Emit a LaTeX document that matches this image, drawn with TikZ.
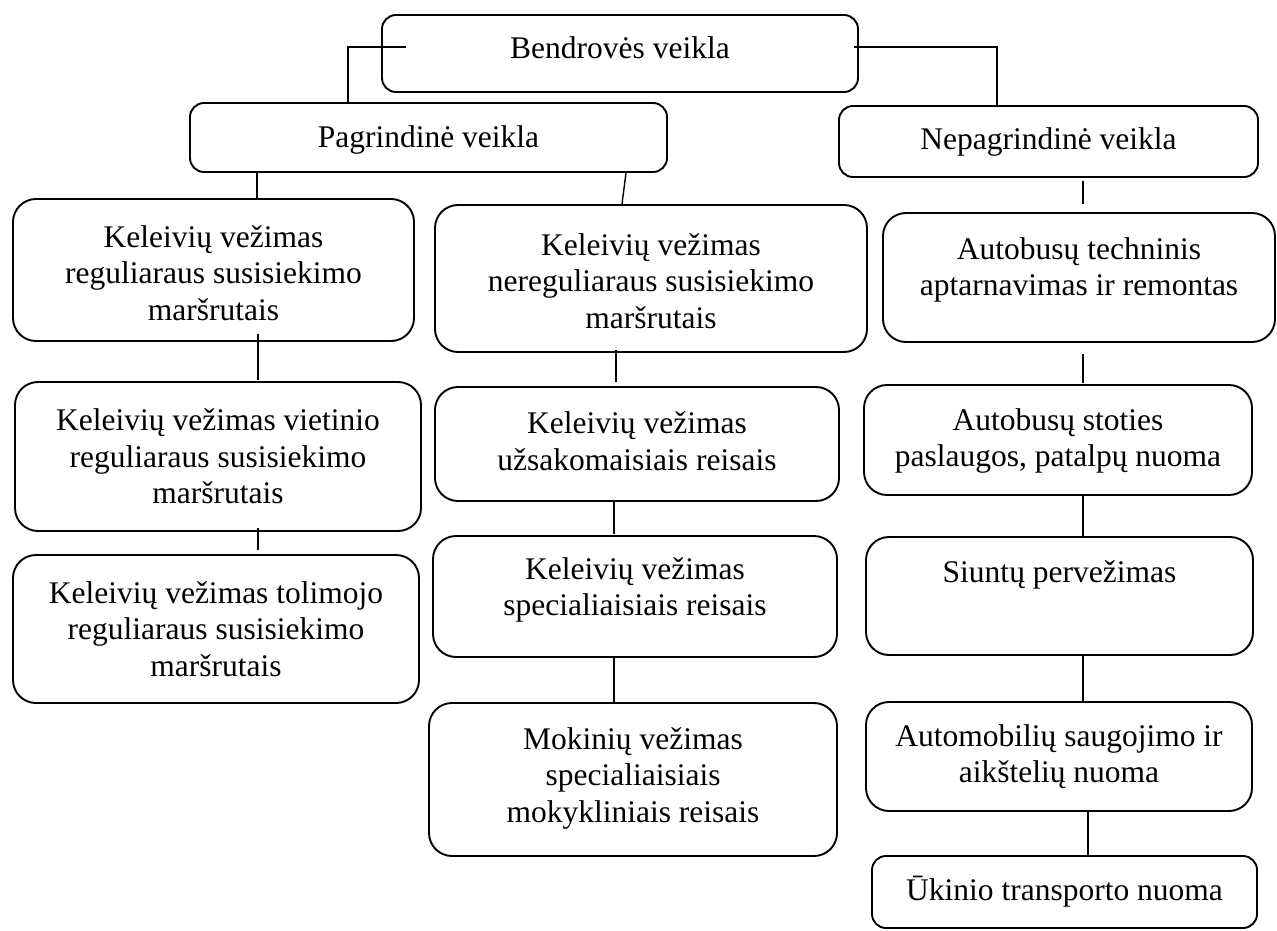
\documentclass[tikz,border=0pt]{standalone}
\usepackage{fontspec}
\setmainfont{Liberation Serif}
\begin{document}
\begin{tikzpicture}[x=1pt,y=-1pt,
  box/.style={draw=black, line width=1.9pt, rounded corners=23pt, inner sep=0pt, fill=white},
  sbox/.style={box, rounded corners=14pt},
  txt/.style={align=center, inner sep=0pt, font=\fontsize{31.5}{36.5}\selectfont},
  conn/.style={draw=black, line width=1.4pt}]
\useasboundingbox (0,0) rectangle (1277,931);
\fill[white] (0,0) rectangle (1277,931);
% boxes
\node[sbox, minimum width=476pt, minimum height=77pt] (top) at (620,53.5) {};
\node[sbox, minimum width=477pt, minimum height=69pt] (pag) at (428.5,137.5) {};
\node[sbox, minimum width=419pt, minimum height=71pt] (nep) at (1048.5,141.5) {};
\node[box, minimum width=401pt, minimum height=142pt] (a1) at (213.5,270) {};
\node[box, minimum width=406pt, minimum height=149pt] (a2) at (218,456.5) {};
\node[box, minimum width=406pt, minimum height=148pt] (a3) at (216,629) {};
\node[box, minimum width=432pt, minimum height=147pt] (b1) at (651,278.5) {};
\node[box, minimum width=404pt, minimum height=114pt] (b2) at (637,444) {};
\node[box, minimum width=404pt, minimum height=121pt] (b3) at (635,596.5) {};
\node[box, minimum width=408pt, minimum height=153pt] (b4) at (633,779.5) {};
\node[box, minimum width=392pt, minimum height=129pt] (c1) at (1079,277.5) {};
\node[box, minimum width=388pt, minimum height=110pt] (c2) at (1058,440) {};
\node[box, minimum width=387pt, minimum height=118pt] (c3) at (1059.5,596) {};
\node[box, minimum width=386pt, minimum height=109pt] (c4) at (1059,756.5) {};
\node[sbox, minimum width=385pt, minimum height=72pt] (c5) at (1064.5,892) {};
% texts
\node[txt] (topt) at ([yshift=5.5pt]top.center) {Bendrovės veikla};
\node[txt] (pagt) at ([yshift=-2.5pt]pag.center) {Pagrindinė veikla};
\node[txt] (nept) at (nep.center) {Nepagrindinė veikla};
\node[txt] (a1t) at ([yshift=-3pt]a1.center) {Keleivių vežimas\\reguliaraus susisiekimo\\maršrutais};
\node[txt] (a2t) at (a2.center) {Keleivių vežimas vietinio\\reguliaraus susisiekimo\\maršrutais};
\node[txt] (a3t) at (a3.center) {Keleivių vežimas tolimojo\\reguliaraus susisiekimo\\maršrutais};
\node[txt] (b1t) at ([yshift=-2.5pt]b1.center) {Keleivių vežimas\\nereguliaraus susisiekimo\\maršrutais};
\node[txt] (b2t) at ([yshift=3pt]b2.center) {Keleivių vežimas\\užsakomaisiais reisais};
\node[txt] (b3t) at ([yshift=6.5pt]b3.center) {Keleivių vežimas\\specialiaisiais reisais};
\node[txt] (b4t) at ([yshift=1.5pt]b4.center) {Mokinių vežimas\\specialiaisiais\\mokykliniais reisais};
\node[txt] (c1t) at ([yshift=7.5pt]c1.center) {Autobusų techninis\\aptarnavimas ir remontas};
\node[txt] (c2t) at ([yshift=-1pt]c2.center) {Autobusų stoties\\paslaugos, patalpų nuoma};
\node[txt] (c3t) at ([yshift=21pt]c3.center) {Siuntų pervežimas};
\node[txt] (c4t) at (c4.center) {Automobilių saugojimo ir\\aikštelių nuoma};
\node[txt] (c5t) at (c5.center) {Ūkinio transporto nuoma};
% connectors
\draw[conn] ([xshift=25pt,yshift=6.5pt]top.west) -| ([xshift=-80.5pt]pag.north);
\draw[conn] ([xshift=-5pt,yshift=6.5pt]top.east) -| ([xshift=-51.5pt]nep.north);
\draw[conn] ([xshift=-171.5pt]pag.south) -- ([xshift=43.5pt]a1.north);
\draw[conn] ([xshift=197.5pt]pag.south) -- ([xshift=-29pt]b1.north);
\draw[conn] ([xshift=34.5pt,yshift=-3pt]nep.south) -- ([xshift=4pt,yshift=8pt]c1.north);
\draw[conn] ([xshift=44.5pt,yshift=8pt]a1.south) -- ([xshift=40pt,yshift=1pt]a2.north);
\draw[conn] ([xshift=40pt,yshift=4pt]a2.south) -- ([xshift=42pt,yshift=4pt]a3.north);
\draw[conn] ([xshift=-35pt,yshift=3pt]b1.south) -- ([xshift=-21pt,yshift=4pt]b2.north);
\draw[conn] ([xshift=-23pt]b2.south) -- ([xshift=-21pt,yshift=1pt]b3.north);
\draw[conn] ([xshift=-21pt,yshift=1pt]b3.south) -- ([xshift=-19pt]b4.north);
\draw[conn] ([xshift=4pt,yshift=-11pt]c1.south) -- ([xshift=25pt,yshift=1pt]c2.north);
\draw[conn] ([xshift=25pt]c2.south) -- ([xshift=23.5pt]c3.north);
\draw[conn] ([xshift=23.5pt]c3.south) -- ([xshift=24pt]c4.north);
\draw[conn] ([xshift=29pt]c4.south) -- ([xshift=23.5pt]c5.north);
\end{tikzpicture}
\end{document}
